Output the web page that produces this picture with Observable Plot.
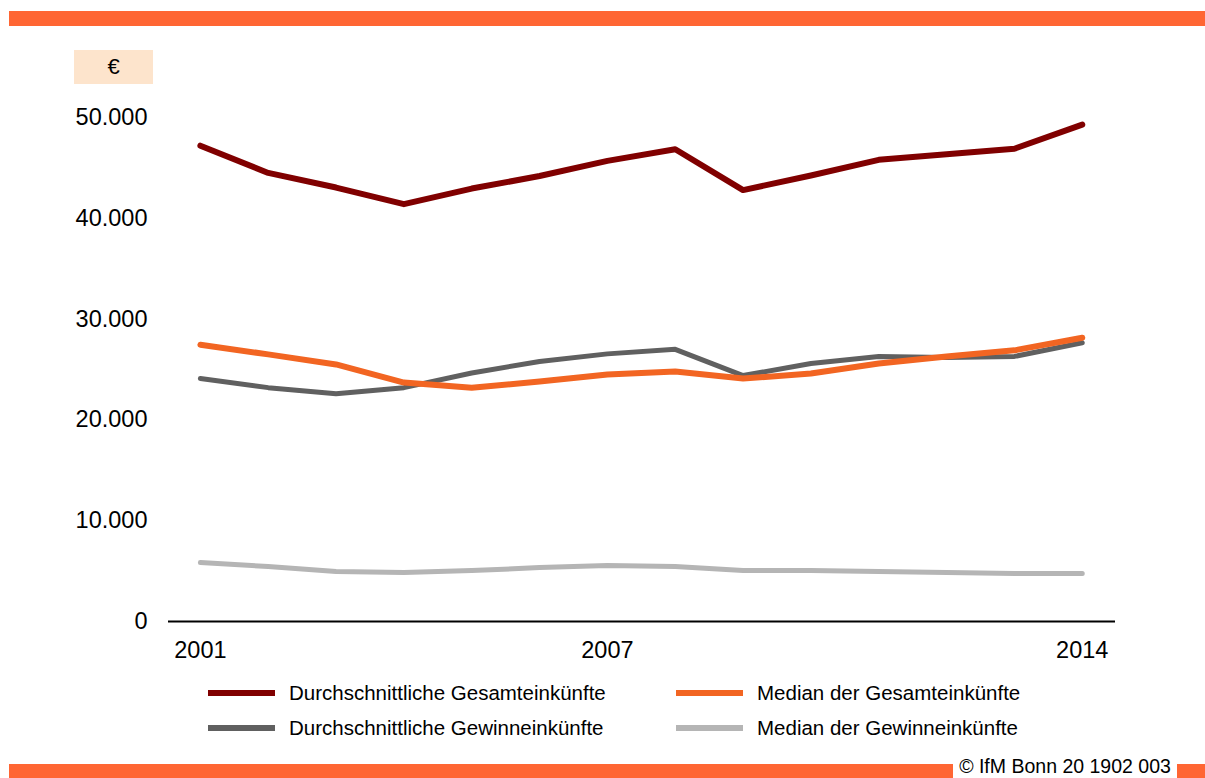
<!DOCTYPE html>
<html>
<head>
<meta charset="utf-8">
<script src="https://cdn.jsdelivr.net/npm/d3@7"></script>
<script src="https://cdn.jsdelivr.net/npm/@observablehq/plot@0.6"></script>
<style>
  html, body { margin: 0; padding: 0; background: #fff; }
  body { font-family: "Liberation Sans", Arial, sans-serif; }
  #wrap { position: relative; width: 1205px; height: 778px; overflow: hidden; }
  .bar { position: absolute; background: #ff6633; }
  #euro { position: absolute; left: 74px; top: 50px; width: 79px; height: 34px; background: #fde4cc;
          font-size: 22px; line-height: 34px; text-align: center; color: #000; }
  #chart { position: absolute; left: 0; top: 0; }
  .leg { position: absolute; font-size: 20.5px; color: #000; display: flex; align-items: center; white-space: nowrap; }
  .sw { width: 67px; height: 6px; margin-right: 14px; flex: none; }
  #gap { position: absolute; left: 953px; top: 764px; width: 224px; height: 14px; background: #fff; }
  #copy { position: absolute; left: 953px; top: 755px; width: 224px; height: 22px;
          font-size: 19.5px; line-height: 22px; text-align: center; color: #000; white-space: nowrap; }
</style>
</head>
<body>
<div id="wrap">
  <div class="bar" style="left:9px;top:11px;width:1196px;height:15px;"></div>
  <div id="euro">€</div>
  <div id="chart"></div>
  <div id="legend"></div>
  <div class="bar" style="left:9px;top:764px;width:1196px;height:14px;"></div>
  <div id="gap"></div>
  <div id="copy">© IfM Bonn 20 1902 003</div>
</div>
<script>
const years = [2001, 2002, 2003, 2004, 2005, 2006, 2007, 2008, 2009, 2010, 2011, 2012, 2013, 2014];
const seriesNames = [
  "Durchschnittliche Gesamteinkünfte",
  "Median der Gesamteinkünfte",
  "Durchschnittliche Gewinneinkünfte",
  "Median der Gewinneinkünfte"
];
const avgTotal    = [47200, 44500, 43050, 41400, 42950, 44200, 45700, 46850, 42800, 44250, 45800, 46350, 46900, 49300];
const medianTotal = [27450, 26500, 25500, 23700, 23200, 23800, 24500, 24800, 24100, 24600, 25600, 26300, 26900, 28150];
const avgProfit   = [24100, 23200, 22600, 23200, 24650, 25800, 26550, 27000, 24400, 25600, 26300, 26200, 26300, 27650];
const medianProfit= [5850, 5450, 4950, 4850, 5050, 5350, 5550, 5450, 5050, 5050, 4950, 4850, 4750, 4750];
const xTicks = [2001, 2007, 2014];
const yTicks = [0, 10000, 20000, 30000, 40000, 50000];
const colors = ["#800000", "#f26522", "#606060", "#b5b5b5"];
const widths = [6, 6, 5, 5];

const allValues = [avgTotal, medianTotal, avgProfit, medianProfit];
const data = [];
seriesNames.forEach((name, i) => {
  years.forEach((y, j) => data.push({series: name, year: y, value: allValues[i][j]}));
});

const de = d3.formatLocale({decimal: ",", thousands: ".", grouping: [3], currency: ["", "€"]});
const fmt = de.format(",");

// draw order: light gray first, then dark gray, then orange, then dark red
const drawOrder = [3, 2, 1, 0];

const plot = Plot.plot({
  width: 1205,
  height: 670,
  marginTop: 117,
  marginBottom: 49,
  marginLeft: 168,
  marginRight: 90,
  style: {fontFamily: "'Liberation Sans', Arial, sans-serif", fontSize: "23.5px", color: "#000", background: "transparent"},
  x: {domain: [2000.53, 2014.49], label: null},
  y: {domain: [0, 50000], label: null},
  marks: [
    Plot.axisY({ticks: yTicks, tickFormat: fmt, tickSize: 0, tickPadding: 21, label: null, fontSize: 23.5}),
    Plot.axisX({ticks: xTicks, tickFormat: d => String(d), tickSize: 0, tickPadding: 20, label: null, fontSize: 23.5}),
    ...drawOrder.map(i => Plot.line(data.filter(d => d.series === seriesNames[i]), {
      x: "year", y: "value", stroke: colors[i], strokeWidth: widths[i],
      strokeLinecap: "round", strokeLinejoin: "round"
    })),
    Plot.ruleY([0], {stroke: "#000", strokeWidth: 2})
  ]
});
document.getElementById("chart").appendChild(plot);

// Legend
const legend = document.getElementById("legend");
const legPos = [
  {left: 208, top: 682},
  {left: 676, top: 682},
  {left: 208, top: 717},
  {left: 676, top: 717}
];
seriesNames.forEach((name, i) => {
  const el = document.createElement("div");
  el.className = "leg";
  el.style.left = legPos[i].left + "px";
  el.style.top = legPos[i].top + "px";
  el.style.height = "22px";
  const sw = document.createElement("span");
  sw.className = "sw";
  sw.style.background = colors[i];
  const tx = document.createElement("span");
  tx.textContent = name;
  el.appendChild(sw);
  el.appendChild(tx);
  legend.appendChild(el);
});
</script>
</body>
</html>
